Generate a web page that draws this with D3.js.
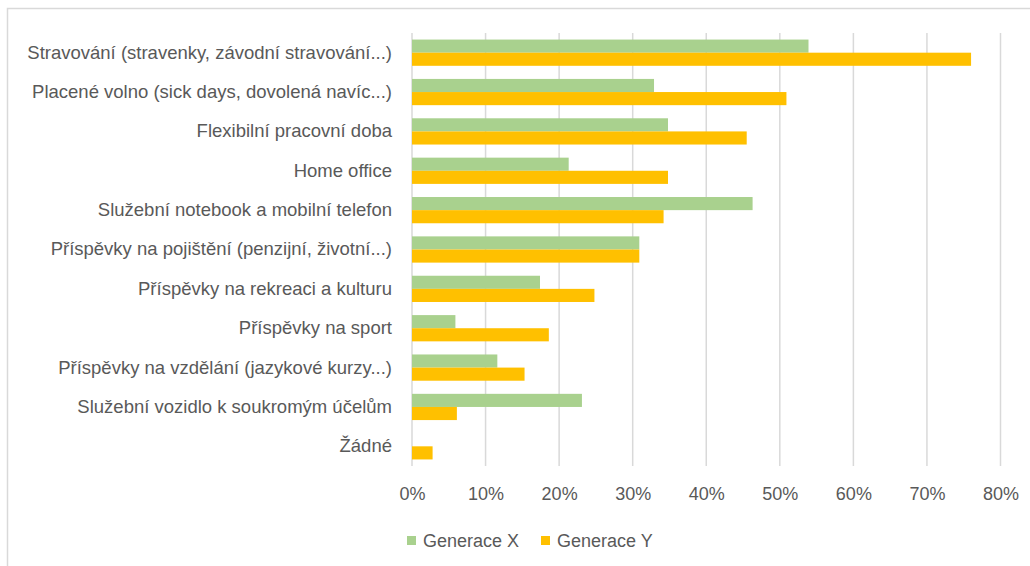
<!DOCTYPE html>
<html><head><meta charset="utf-8">
<script src="https://cdn.jsdelivr.net/npm/d3@7"></script>
<style>body{margin:0;background:#fff}svg{display:block}text{font-family:"Liberation Sans",Arial,sans-serif;fill:#595959}</style>
</head><body><svg id="c" width="1030" height="566"></svg>
<script>
const categories = ["Stravování (stravenky, závodní stravování...)","Placené volno (sick days, dovolená navíc...)","Flexibilní pracovní doba","Home office","Služební notebook a mobilní telefon","Příspěvky na pojištění (penzijní, životní...)","Příspěvky na rekreaci a kulturu","Příspěvky na sport","Příspěvky na vzdělání (jazykové kurzy...)","Služební vozidlo k soukromým účelům","Žádné"];
const genX = [53.9,32.9,34.8,21.3,46.3,30.9,17.4,5.9,11.6,23.1,0];
const genY = [76.0,50.9,45.5,34.8,34.2,30.9,24.8,18.6,15.3,6.1,2.8];
const seriesNames = ["Generace X","Generace Y"];
const colors = ["#a9d18e","#ffc000"];
const xTicks = [0,10,20,30,40,50,60,70,80];

const FONT = '"Liberation Sans",Arial,sans-serif';
const svg = d3.select("#c");
svg.append("rect").attr("x",7.5).attr("y",8.5).attr("width",1040).attr("height",600).attr("fill","none").attr("stroke","#d9d9d9").attr("stroke-width",1.5);

const x = d3.scaleLinear().domain([0,80]).range([412,1000.5]);
const y = d3.scaleBand().domain(categories).range([33,466]);
const inner = d3.scaleBand().domain([0,1]).range([0,y.bandwidth()]).paddingOuter(0.5);

svg.append("g").selectAll("line").data(xTicks).join("line")
  .attr("x1",d=>x(d)).attr("x2",d=>x(d)).attr("y1",33).attr("y2",466)
  .attr("stroke","#d9d9d9").attr("stroke-width",1.5);

const series = [genX, genY];
series.forEach((vals,si)=>{
  svg.append("g").selectAll("rect").data(vals).join("rect")
    .attr("x",x(0)).attr("y",(d,i)=>y(categories[i])+inner(si))
    .attr("width",d=>x(d)-x(0)).attr("height",inner.bandwidth())
    .attr("fill",colors[si]);
});

const xAxis = d3.axisBottom(x).tickValues(xTicks).tickFormat(d=>d+"%").tickSize(0).tickPadding(0);
const gx = svg.append("g").attr("transform","translate(0,466)").call(xAxis);
gx.select(".domain").remove();
gx.selectAll("text").attr("dy",null).attr("y",34).style("font-size","18px").attr("fill","#595959").style("font-family",FONT);

const yAxis = d3.axisLeft(y).tickSize(0).tickPadding(20);
const gy = svg.append("g").attr("transform","translate(412,0)").call(yAxis);
gy.select(".domain").remove();
gy.selectAll("text").style("font-size","18.5px").attr("fill","#595959").style("font-family",FONT);

const leg = svg.append("g");
const legX = [407, 541];
seriesNames.forEach((n,i)=>{
  leg.append("rect").attr("x",legX[i]).attr("y",536).attr("width",9).attr("height",9).attr("fill",colors[i]);
  leg.append("text").attr("x",legX[i]+16).attr("y",541).attr("dy","0.35em").style("font-size","18px").text(n);
});
</script></body></html>
